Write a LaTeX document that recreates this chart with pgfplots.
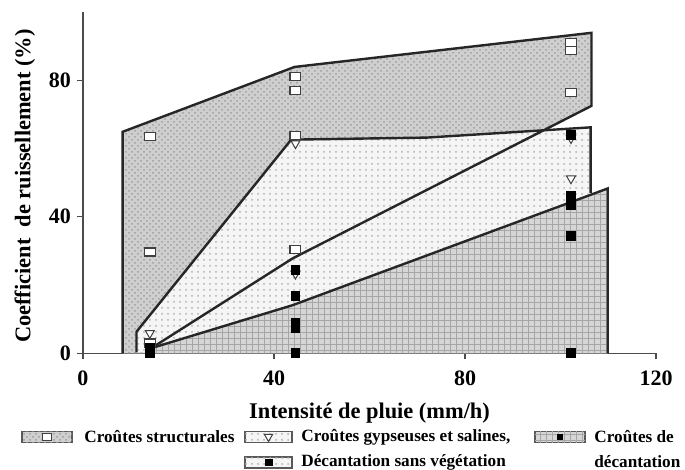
\documentclass[border=0pt]{standalone}
\usepackage{fontspec}
\setmainfont{Liberation Serif}
\usepackage{pgfplots}
\pgfplotsset{compat=1.18}
\usetikzlibrary{patterns,shapes.geometric}
\begin{document}
\begin{tikzpicture}
\path[use as bounding box] (-41.5pt,-58.35pt) rectangle (301pt,176.65pt);
\begin{axis}[
  at={(0,0)}, anchor=south west,
  scale only axis, width=286.5pt, height=170.65pt,
  xmin=0, xmax=120, ymin=0, ymax=100,
  axis lines=left,
  axis line style={-, line width=0.7pt, gray!60!black},
  xtick={0,40,80,120}, ytick={0,40,80},
  tick align=outside, major tick length=3pt,
  tick style={line width=0.6pt, gray!60!black},
  clip=false,
  /pgf/number format/assume math mode=true,
  ticklabel style={font=\fontsize{11}{13}\selectfont\bfseries},
  xticklabel style={yshift=-2.5pt},
  yticklabel style={xshift=0.5pt},
  xlabel={Intensité de pluie (mm/h)},
  ylabel={Coefficient\ \ de ruissellement (\%)},
  label style={font=\fontsize{11.2}{13}\selectfont\bfseries},
  xlabel style={at={(axis description cs:0.5,0)}, anchor=center, yshift=-30pt},
  ylabel style={at={(axis description cs:0,0.49)}, anchor=center, yshift=29pt},
]
% fills
\addplot[draw=none, fill=gray!38, postaction={pattern=crosshatch dots, pattern color=gray!75}]
 coordinates {(8.3,0) (8.3,64.9) (44.3,83.9) (106.5,93.9) (106.5,72.5) (43.9,27.8) (14.3,1.5) (14.3,0)};
\addplot[draw=none, fill=gray!8, postaction={pattern=dots, pattern color=gray!60}]
 coordinates {(11.2,0.3) (11.2,6.3) (43.6,62.6) (72,63.2) (106.3,66.2) (106.3,47) (43.9,14.1) (14.3,1.5) (14.3,0.3)};
\addplot[draw=none, fill=gray!32, postaction={pattern=grid, pattern color=gray!70}]
 coordinates {(14.3,0) (14.3,1.5) (43.9,14.1) (109.9,48.3) (109.9,0)};
% outlines
\addplot[line width=1.2pt, black!85] coordinates {(8.3,0) (8.3,64.9) (44.3,83.9) (106.5,93.9) (106.5,72.5) (43.9,27.8) (14.3,1.5)};
\addplot[line width=1.2pt, black!85] coordinates {(11.2,0.3) (11.2,6.3) (43.6,62.6) (72,63.2) (106.3,66.2) (106.3,47)};
\addplot[line width=1.2pt, black!85] coordinates {(14.3,1.5) (43.9,14.1) (109.9,48.3) (109.9,0)};
% Croutes structurales
\addplot[only marks, mark=square*, mark size=2pt, mark options={xscale=1.35, fill=white, draw=black!75, line width=0.6pt}]
 coordinates {(14,63.6) (14,29.7) (14,3) (44.5,81.2) (44.5,77.1) (44.5,63.9) (44.5,30.4) (102.2,91.0) (102.2,88.8) (102.2,76.4)};
% Croutes gypseuses
\addplot[only marks, mark=triangle*, mark size=2.6pt, mark options={rotate=180, fill=white, draw=black!75, line width=0.5pt}]
 coordinates {(14,5.9) (44.5,61.5) (44.5,23.3) (102.2,51.2) (102.2,63.0)};
% Decantation
\addplot[only marks, mark=square*, mark size=2.2pt, mark options={fill=black, draw=black}]
 coordinates {(14,1.6) (14,0.6) (14,0) (44.5,24.4) (44.5,16.8) (44.5,8.8) (44.5,7.4) (44.5,0) (102.2,64.1) (102.2,46) (102.2,44.6) (102.2,43.5) (102.2,34.4) (102.2,0)};
\end{axis}
% legend
\begin{scope}[font=\fontsize{8.6}{10.3}\selectfont\bfseries]
\draw[gray!70!black, line width=0.6pt, fill=gray!38, postaction={pattern=crosshatch dots, pattern color=gray!75}] (-30.5pt,-44.6pt) rectangle (-5.5pt,-39.1pt);
\node[draw=black!75, fill=white, line width=0.5pt, inner sep=0pt, minimum width=4.6pt, minimum height=3.6pt] at (-18pt,-41.85pt) {};
\node[anchor=west, inner sep=0pt] at (0.5pt,-41.85pt) {Croûtes structurales};
\draw[gray!70!black, line width=0.6pt, fill=gray!8, postaction={pattern=dots, pattern color=gray!60}] (81pt,-44.6pt) rectangle (104.5pt,-39.1pt);
\node[draw=black!75, fill=white, line width=0.5pt, isosceles triangle, shape border rotate=-90, isosceles triangle apex angle=60, inner sep=0pt, minimum size=3.6pt] at (92.75pt,-41.7pt) {};
\node[anchor=west, inner sep=0pt] at (109pt,-41.85pt) {Croûtes gypseuses et salines,};
\draw[gray!70!black, line width=0.6pt, fill=gray!8, postaction={pattern=dots, pattern color=gray!60}] (81pt,-57.4pt) rectangle (104.5pt,-51.9pt);
\node[fill=black, inner sep=0pt, minimum width=4pt, minimum height=3.4pt] at (92.75pt,-54.65pt) {};
\node[anchor=west, inner sep=0pt] at (109pt,-54.4pt) {Décantation sans végétation};
\draw[gray!70!black, line width=0.6pt, fill=gray!32, postaction={pattern=grid, pattern color=gray!70}] (226pt,-44.6pt) rectangle (251pt,-39.1pt);
\node[fill=black, inner sep=0pt, minimum width=3.4pt, minimum height=3pt] at (238.5pt,-41.85pt) {};
\node[anchor=west, inner sep=0pt] at (255.5pt,-41.85pt) {Croûtes de};
\node[anchor=west, inner sep=0pt] at (255.5pt,-54.4pt) {décantation};
\end{scope}
\end{tikzpicture}
\end{document}
